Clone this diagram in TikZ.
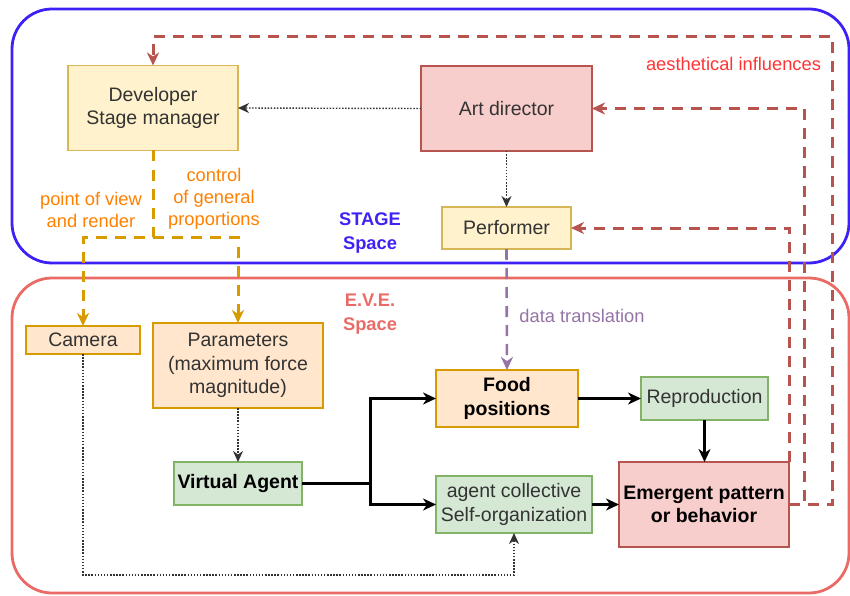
\documentclass[tikz,border=0pt]{standalone}
\usepackage{fontspec}
\setmainfont{Liberation Sans}
\usetikzlibrary{arrows.meta}

\definecolor{stageblue}{HTML}{3E22F5}
\definecolor{everd}{HTML}{EA6B66}
\definecolor{yelfill}{HTML}{FFF2CC}
\definecolor{yeldraw}{HTML}{D6B656}
\definecolor{orfill}{HTML}{FFE6CC}
\definecolor{ordraw}{HTML}{D79B00}
\definecolor{rdfill}{HTML}{F8CECC}
\definecolor{rddraw}{HTML}{B85450}
\definecolor{grfill}{HTML}{D5E8D4}
\definecolor{grdraw}{HTML}{82B366}
\definecolor{purp}{HTML}{9673A6}
\definecolor{labor}{HTML}{FF8000}
\definecolor{labrd}{HTML}{FF3333}
\definecolor{txtgray}{HTML}{333333}

\begin{document}
\begin{tikzpicture}[x=1pt,y=-1pt]
		\tikzset{box/.style={draw, line width=1.6pt, inner sep=0pt, outer sep=0pt, align=center,
				text=txtgray, font=\fontsize{19.5}{23.5}\selectfont}}
		\tikzset{yelbox/.style={box, fill=yelfill, draw=yeldraw}}
		\tikzset{orbox/.style={box, fill=orfill, draw=ordraw}}
		\tikzset{rdbox/.style={box, fill=rdfill, draw=rddraw}}
		\tikzset{grbox/.style={box, fill=grfill, draw=grdraw}}
		\tikzset{lab/.style={align=center, font=\fontsize{18.3}{22}\selectfont}}
		\tikzset{tip/.style={-{Stealth[length=13pt,width=12pt,inset=4pt]}}}
		\tikzset{dots/.style={-{Stealth[length=11pt,width=10pt,inset=3.5pt]}, line width=1.4pt, dash pattern=on 1.5pt off 1.6pt, draw=txtgray}}
		\tikzset{flow/.style={tip, line width=3pt, black}}
		\tikzset{feedback/.style={tip, line width=3pt, rddraw, dash pattern=on 11pt off 8pt}}
		\tikzset{ctrl/.style={tip, line width=3pt, ordraw, dash pattern=on 11pt off 8pt}}
		\useasboundingbox (0,0) rectangle (850,596);
		% the two spaces
		\draw[stageblue, line width=2.8pt, rounded corners=40pt] (12,9) rectangle (849,263);
		\draw[everd, line width=2.8pt, rounded corners=40pt] (12,278) rectangle (849,593);
		\node[lab, stageblue, font=\fontsize{18.3}{24}\selectfont\bfseries] (stagelab) at (370,233) {STAGE\\Space};
		\node[lab, everd, font=\fontsize{18.3}{24}\selectfont\bfseries] (evelab) at (370,314) {E.V.E.\\Space};
		% nodes
		\node[yelbox, minimum width=170pt, minimum height=85pt] (dev) at (153,108) {Developer\\Stage manager};
		\node[rdbox, minimum width=171pt, minimum height=85pt] (art) at (506.5,108.5) {Art director};
		\node[yelbox, minimum width=129pt, minimum height=42pt] (perf) at (506.5,228) {Performer};
		\node[orbox, minimum width=114pt, minimum height=28pt] (cam) at (83,340) {Camera};
		\node[orbox, minimum width=170pt, minimum height=85pt] (par) at (238,365.5) {Parameters\\(maximum force\\magnitude)};
		\node[grbox, minimum width=128pt, minimum height=43pt, text=black, font=\fontsize{19.5}{23.5}\selectfont\bfseries] (va) at (238,483.5) {Virtual Agent};
		\node[orbox, minimum width=142pt, minimum height=57pt, text=black, font=\fontsize{19.5}{23.5}\selectfont\bfseries] (food) at (507,398.5) {Food\\positions};
		\node[grbox, minimum width=127pt, minimum height=43pt] (repro) at (704.5,398.5) {Reproduction};
		\node[grbox, minimum width=156pt, minimum height=57pt] (agent) at (514,504.5) {agent collective\\Self-organization};
		\node[rdbox, minimum width=170pt, minimum height=85pt, text=black, font=\fontsize{19.5}{23.5}\selectfont\bfseries] (emer) at (704,504.5) {Emergent pattern\\or behavior};
		% labels
		\node[lab, labrd] (aesth) at (733.5,64) {aesthetical influences};
		\node[lab, labor] (povlab) at (91,210) {point of view\\and render};
		\node[lab, labor] (ctrllab) at (214,199) {control\\of general\\proportions};
		\node[lab, purp] (datalab) at (582,316) {data translation};
		% connectors
		\coordinate (devsplit) at (153,237);
		\coordinate (vasplit) at (370,483.5);
		\coordinate (camlow) at (83,575);
		\coordinate (fbart) at (804,504.5);
		\coordinate (fbtop) at (832,37);
		\draw[dots] (art.west) -- (dev.east);
		\draw[dots] (art.south) -- (perf.north);
		\draw[ctrl] (dev.south) -- (devsplit) -| (cam.north);
		\draw[ctrl] (devsplit) -| (par.north);
		\draw[tip, line width=2.6pt, purp, dash pattern=on 11pt off 8pt] (perf.south) -- (food.north);
		\draw[dots] (par.south) -- (va.north);
		\draw[line width=3pt] (va.east) -- (vasplit);
		\draw[flow] (vasplit) |- (food.west);
		\draw[flow] (vasplit) |- (agent.west);
		\draw[flow] (food.east) -- (repro.west);
		\draw[flow] (repro.south) -- (emer.north -| repro.south);
		\draw[flow] (agent.east) -- (emer.west);
		\draw[dots] (cam.south) -- (camlow) -| (agent.south);
		\draw[feedback] (emer.north east) |- (perf.east);
		\draw[feedback] (emer.east) -- (fbart) |- (art.east);
		\draw[feedback] (emer.east) -| (fbtop) -| (dev.north);
\end{tikzpicture}
\end{document}
